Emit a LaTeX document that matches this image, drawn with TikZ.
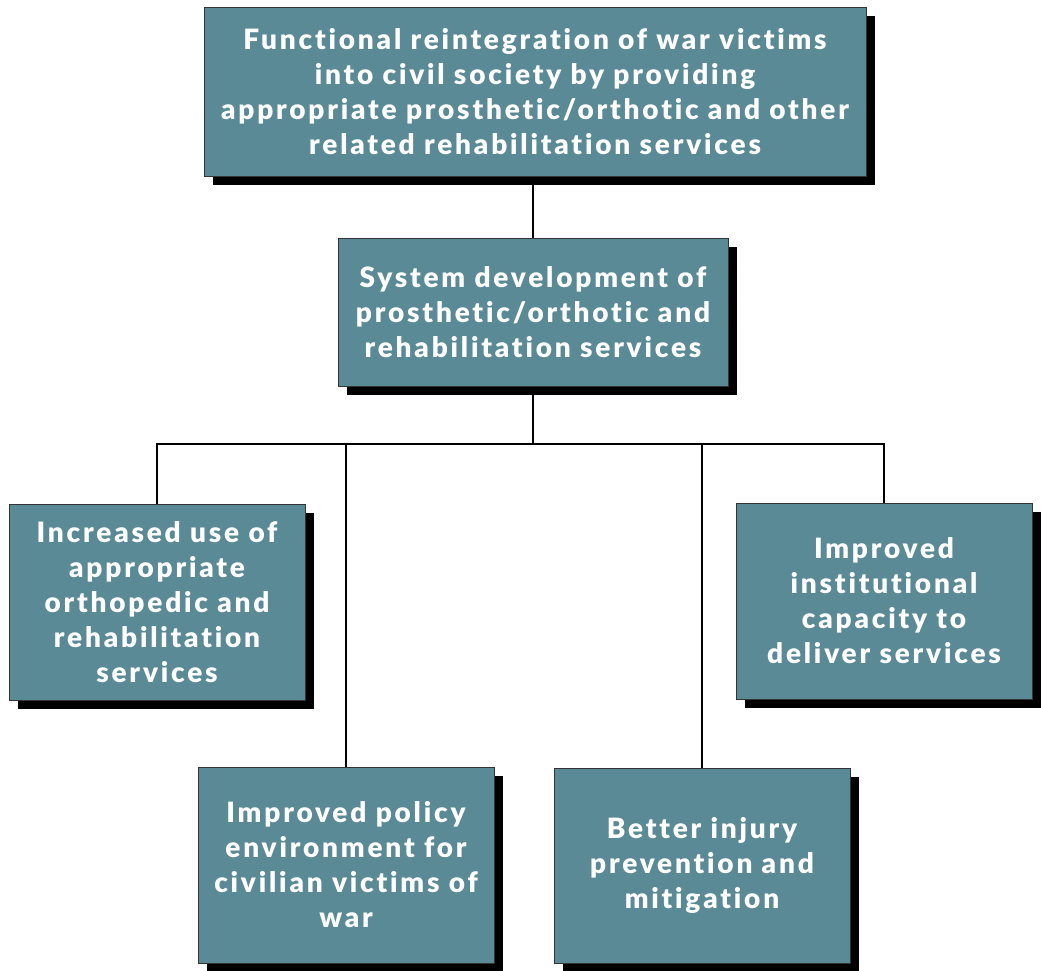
\documentclass[tikz,border=0pt]{standalone}
\usepackage{fontspec}
\setmainfont{Lato}[LetterSpace=10, Ligatures={NoCommon}, BoldFont={Lato Black}]
\usetikzlibrary{shadows}
\definecolor{boxfill}{HTML}{5A8A95}
\definecolor{boxline}{HTML}{333333}
\tikzset{
  box/.style={draw=boxline, line width=1pt, fill=boxfill, text=white,
    font=\fontsize{28}{35}\selectfont\bfseries, align=center, inner sep=0pt,
    drop shadow={shadow xshift=9pt, shadow yshift=-9pt, fill=black, opacity=1}},
  conn/.style={draw=black, line width=2pt}
}
\begin{document}
\begin{tikzpicture}[x=1pt,y=-1pt]
\fill[white] (0,0) rectangle (1041,970);
\useasboundingbox (0,0) rectangle (1041,970);
\coordinate (bar) at (528,444);
\node[box, minimum width=662, minimum height=169] (top) at (535,91.5)
  {Functional reintegration of war victims\\into civil society by providing\\appropriate prosthetic/orthotic and other\\related rehabilitation services};
\node[box, minimum width=390, minimum height=148] (mid) at (533,312)
  {System development of\\prosthetic/orthotic and\\rehabilitation services};
\node[box, minimum width=296, minimum height=196] (b1) at (157,602)
  {Increased use of\\appropriate\\orthopedic and\\rehabilitation\\services};
\node[box, minimum width=296, minimum height=196] (b4) at (884,601)
  {Improved\\institutional\\capacity to\\deliver services};
\node[box, minimum width=296, minimum height=196] (b5) at (346,865)
  {Improved policy\\environment for\\civilian victims of\\war};
\node[box, minimum width=296, minimum height=195] (b6) at (702,865.5)
  {Better injury\\prevention and\\mitigation};
\draw[conn] (mid.north) -- (mid.north |- top.south);
\draw[conn] (mid.south) -- (mid.south |- bar);
\draw[conn] (b1.north) -- (b1.north |- bar) -- (b4.north |- bar) -- (b4.north);
\draw[conn] (b5.north) -- (b5.north |- bar);
\draw[conn] (b6.north) -- (b6.north |- bar);
\end{tikzpicture}
\end{document}
